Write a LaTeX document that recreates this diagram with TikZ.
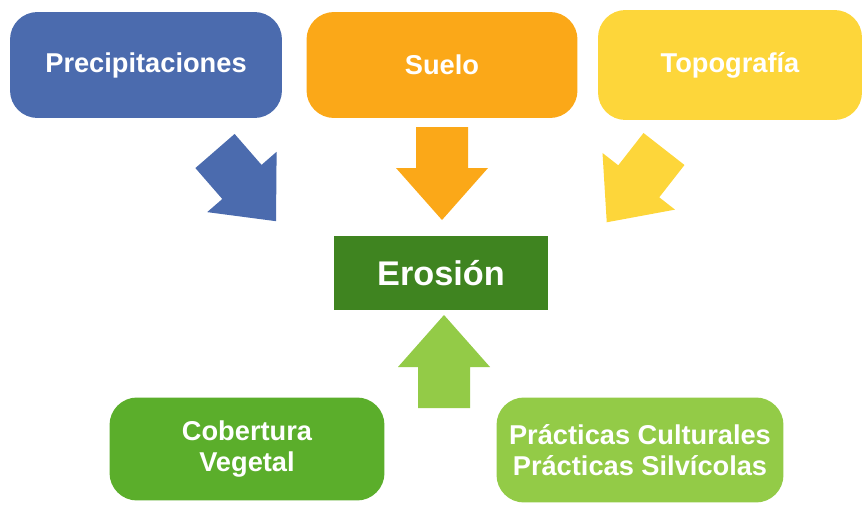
\documentclass[tikz,border=0pt]{standalone}
\usepackage{fontspec}
\setmainfont{Liberation Sans}
\definecolor{precblue}{HTML}{4B6BAE}
\definecolor{sueloorange}{HTML}{FBA818}
\definecolor{topoyellow}{HTML}{FDD63A}
\definecolor{erosgreen}{HTML}{3F8420}
\definecolor{cobgreen}{HTML}{5BAE2B}
\definecolor{praclight}{HTML}{93CB47}
\tikzset{
	factor/.style={rounded corners=0.55cm, text=white, align=center, inner sep=0pt,
		font=\bfseries\fontsize{15.5}{18}\selectfont},
	blockarrow/.pic={
		\fill[pic actions] (0,-26) -- (41,-26) -- (41,-46) -- (93,0) -- (41,46) -- (41,26) -- (0,26) -- cycle;
	},
}
\begin{document}
\begin{tikzpicture}[x=0.02cm,y=-0.02cm]
	\useasboundingbox (0,0) rectangle (862,507);
	% causas de arriba
	\node[factor,fill=precblue,minimum width=5.44cm,minimum height=2.12cm] (prec) at (146,65) {Precipitaciones};
	\node[factor,fill=sueloorange,minimum width=5.42cm,minimum height=2.12cm] (suelo) at (442,65) {Suelo};
	\node[factor,fill=topoyellow,minimum width=5.28cm,minimum height=2.2cm] (topo) at (730,65) {Topograf\'ia};
	% centro
	\node[fill=erosgreen,text=white,minimum width=4.28cm,minimum height=1.48cm,inner sep=0pt,
		font=\bfseries\fontsize{19.5}{22}\selectfont] (eros) at (441,273) {Erosi\'on};
	% factores de abajo
	\node[factor,fill=cobgreen,minimum width=5.5cm,minimum height=2.06cm] (cob) at (247,449) {Cobertura\\Vegetal};
	\node[factor,fill=praclight,minimum width=5.74cm,minimum height=2.1cm] (prac) at (640,450) {Pr\'acticas Culturales\\Pr\'acticas Silv\'icolas};
	% flechas
	\pic[fill=precblue,rotate=-49] at (215,151) {blockarrow};
	\pic[fill=sueloorange,rotate=-90] at (442,127) {blockarrow};
	\pic[fill=topoyellow,rotate=-128] at (664,149) {blockarrow};
	\pic[fill=praclight,rotate=90] at (444,408) {blockarrow};
\end{tikzpicture}
\end{document}
